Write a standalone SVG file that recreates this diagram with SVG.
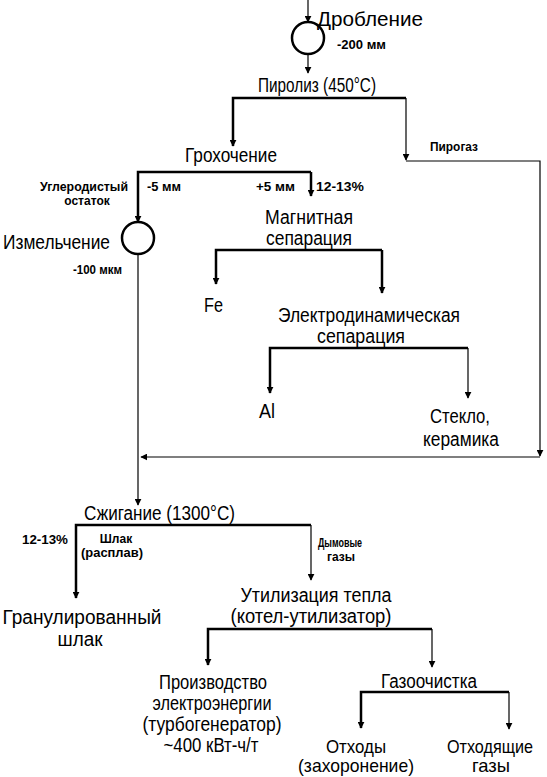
<svg xmlns="http://www.w3.org/2000/svg" width="547" height="777" viewBox="0 0 547 777">
<defs>
<style>
text{font-family:"Liberation Sans",Arial,sans-serif;fill:#000}
.m{font-size:20px}
.b{font-size:19px}
.s{font-size:12px;font-weight:bold}
.c{text-anchor:middle}
.th{stroke:#000;stroke-width:2.5;fill:none}
.tn{stroke:#000;stroke-width:1.2;fill:none}
.ci{stroke:#000;stroke-width:2.5;fill:#fff}
</style>
<marker id="a" viewBox="0 0 10 10" refX="9" refY="5" markerWidth="7" markerHeight="7" markerUnits="userSpaceOnUse" orient="auto"><path d="M0,0 L10,5 L0,10 z" fill="#000"/></marker>
</defs>
<g id="connectors">
<path class="tn" d="M308,0 V22" marker-end="url(#a)"/>
<path class="tn" d="M308,54 V73" marker-end="url(#a)"/>
<path class="th" d="M406,98 H233 V146" marker-end="url(#a)"/>
<path class="tn" d="M406,98 V160" marker-end="url(#a)"/>
<path class="tn" d="M406,161 H540 V456" marker-end="url(#a)"/>
<path class="tn" d="M540,457 H141" marker-end="url(#a)"/>
<path class="th" d="M311,172 H138 V222" marker-end="url(#a)"/>
<path class="th" d="M311,172 V196" marker-end="url(#a)"/>
<path class="tn" d="M138,254 V505" marker-end="url(#a)"/>
<path class="th" d="M382,250 H216 V284" marker-end="url(#a)"/>
<path class="th" d="M382,250 V293" marker-end="url(#a)"/>
<path class="th" d="M468,348 H270 V393" marker-end="url(#a)"/>
<path class="tn" d="M468,348 V398" marker-end="url(#a)"/>
<path class="th" d="M311,525 H76 V598" marker-end="url(#a)"/>
<path class="tn" d="M311,525 V580" marker-end="url(#a)"/>
<path class="th" d="M432,629 H208 V665" marker-end="url(#a)"/>
<path class="tn" d="M432,629 V667" marker-end="url(#a)"/>
<path class="th" d="M509,692 H361 V728" marker-end="url(#a)"/>
<path class="tn" d="M509,692 V729" marker-end="url(#a)"/>
</g>
<g id="drobl"><circle class="ci" cx="308" cy="38" r="16"/><text class="m" x="317" y="26" textLength="106" lengthAdjust="spacingAndGlyphs">Дробление</text><text class="s" x="337" y="49" textLength="49" lengthAdjust="spacingAndGlyphs">-200 мм</text></g>
<g id="piroliz"><text class="m" x="258" y="92" textLength="118" lengthAdjust="spacingAndGlyphs">Пиролиз (450°С)</text></g>
<g id="pirogaz"><text class="s" x="430" y="151" textLength="48" lengthAdjust="spacingAndGlyphs">Пирогаз</text></g>
<g id="groh"><text class="m" x="185" y="162" textLength="92" lengthAdjust="spacingAndGlyphs">Грохочение</text>
<text class="s" x="40" y="191" textLength="88" lengthAdjust="spacingAndGlyphs">Углеродистый</text><text class="s c" x="87" y="205">остаток</text>
<text class="s" x="147" y="191" textLength="34" lengthAdjust="spacingAndGlyphs">-5 мм</text><text class="s" x="256" y="191" textLength="39" lengthAdjust="spacingAndGlyphs">+5 мм</text><text class="s" x="316" y="191" textLength="48" lengthAdjust="spacingAndGlyphs">12-13%</text></g>
<g id="izm"><circle class="ci" cx="138" cy="238" r="16"/><text class="m" x="3" y="249" textLength="107" lengthAdjust="spacingAndGlyphs">Измельчение</text><text class="s" x="73" y="274" textLength="49" lengthAdjust="spacingAndGlyphs">-100 мкм</text></g>
<g id="magn"><text class="m c" x="309" y="224" textLength="88" lengthAdjust="spacingAndGlyphs">Магнитная</text><text class="m c" x="309" y="245" textLength="86" lengthAdjust="spacingAndGlyphs">сепарация</text></g>
<g id="fe"><text class="m" x="204" y="312" textLength="19" lengthAdjust="spacingAndGlyphs">Fe</text></g>
<g id="electro"><text class="m c" x="369" y="322" textLength="182" lengthAdjust="spacingAndGlyphs">Электродинамическая</text><text class="m c" x="361" y="343" textLength="88" lengthAdjust="spacingAndGlyphs">сепарация</text></g>
<g id="al"><text class="m" x="259" y="418" textLength="16" lengthAdjust="spacingAndGlyphs">Al</text></g>
<g id="steklo"><text class="m c" x="460" y="423" textLength="60" lengthAdjust="spacingAndGlyphs">Стекло,</text><text class="m c" x="461" y="446" textLength="76" lengthAdjust="spacingAndGlyphs">керамика</text></g>
<g id="szhig"><text class="m" x="84" y="520" textLength="151" lengthAdjust="spacingAndGlyphs">Сжигание (1300°С)</text>
<text class="s" x="22" y="544" textLength="46" lengthAdjust="spacingAndGlyphs">12-13%</text><text class="s c" x="116" y="543">Шлак</text><text class="s c" x="112" y="557" textLength="62" lengthAdjust="spacingAndGlyphs">(расплав)</text>
<text class="s c" x="340" y="547" textLength="44" lengthAdjust="spacingAndGlyphs">Дымовые</text><text class="s c" x="341" y="561">газы</text></g>
<g id="granul"><text class="m c" x="82" y="624" textLength="159" lengthAdjust="spacingAndGlyphs">Гранулированный</text><text class="m c" x="80" y="646" textLength="45" lengthAdjust="spacingAndGlyphs">шлак</text></g>
<g id="util"><text class="m c" x="316" y="602" textLength="151" lengthAdjust="spacingAndGlyphs">Утилизация тепла</text><text class="m c" x="311" y="623" textLength="161" lengthAdjust="spacingAndGlyphs">(котел-утилизатор)</text></g>
<g id="proizv"><text class="m c" x="213" y="689" textLength="108" lengthAdjust="spacingAndGlyphs">Производство</text><text class="m c" x="212" y="710" textLength="119" lengthAdjust="spacingAndGlyphs">электроэнергии</text><text class="m c" x="212" y="731" textLength="139" lengthAdjust="spacingAndGlyphs">(турбогенератор)</text><text class="m c" x="211" y="752" textLength="95" lengthAdjust="spacingAndGlyphs">~400 кВт-ч/т</text></g>
<g id="gaz"><text class="m c" x="429" y="688" textLength="96" lengthAdjust="spacingAndGlyphs">Газоочистка</text></g>
<g id="othody"><text class="b c" x="356" y="753" textLength="60" lengthAdjust="spacingAndGlyphs">Отходы</text><text class="b c" x="356" y="772" textLength="116" lengthAdjust="spacingAndGlyphs">(захоронение)</text></g>
<g id="othgaz"><text class="b c" x="490" y="753" textLength="86" lengthAdjust="spacingAndGlyphs">Отходящие</text><text class="b c" x="491" y="772" textLength="38" lengthAdjust="spacingAndGlyphs">газы</text></g>
</svg>
